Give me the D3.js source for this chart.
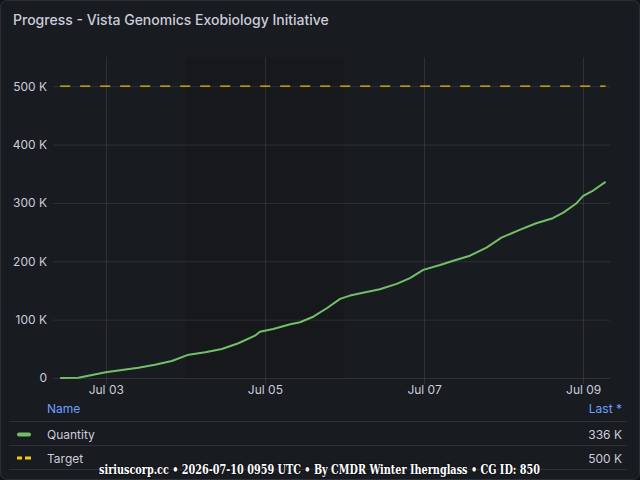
<!DOCTYPE html>
<html lang="en">
<head>
    <meta charset="UTF-8">
    <title>Progress</title>
    <style>
        body { margin: 0; background: #111217; }
    </style>
</head>
<script src="https://cdn.jsdelivr.net/npm/d3@7"></script>
<body>
<script>
    // series data (UTC times, quantity in units)
    var times = ["2026-07-02T10:15", "2026-07-02T15:45", "2026-07-02T18:45", "2026-07-03T00:00",
        "2026-07-03T04:50", "2026-07-03T09:50", "2026-07-03T14:50", "2026-07-03T19:55",
        "2026-07-04T01:00", "2026-07-04T06:00", "2026-07-04T11:00", "2026-07-04T16:00",
        "2026-07-04T21:00", "2026-07-04T22:30", "2026-07-05T02:30", "2026-07-05T07:40",
        "2026-07-05T10:35", "2026-07-05T14:35", "2026-07-05T18:40", "2026-07-05T22:40",
        "2026-07-06T01:40", "2026-07-06T06:40", "2026-07-06T10:40", "2026-07-06T15:45",
        "2026-07-06T19:45", "2026-07-06T23:45", "2026-07-07T04:50", "2026-07-07T08:50",
        "2026-07-07T13:50", "2026-07-07T18:50", "2026-07-07T23:20", "2026-07-08T04:50",
        "2026-07-08T09:50", "2026-07-08T14:50", "2026-07-08T18:00", "2026-07-08T22:00",
        "2026-07-09T00:00", "2026-07-09T03:00", "2026-07-09T06:45"];
    var quantity = [0, 500, 3900, 9800,
        13700, 17700, 22800, 29200,
        40000, 44100, 49700, 59500,
        72500, 79400, 84000, 92100,
        95500, 105000, 119500, 135500,
        141200, 147500, 152000, 161200,
        171000, 185200, 193700, 201000,
        209600, 223300, 240500, 253800,
        265200, 273800, 283400, 299500,
        312000, 321200, 336000];
    var target = 500000;
    var timeRange = ["2026-07-02T08:05", "2026-07-09T08:05"];
    var regionRange = ["2026-07-04T00:00", "2026-07-06T00:00"];
    var yTicks = [0, 100000, 200000, 300000, 400000, 500000];
    var xTicks = ["2026-07-03T00:00", "2026-07-05T00:00", "2026-07-07T00:00", "2026-07-09T00:00"];
    var legendNames = ["Quantity", "Target"];
    var legendLast = ["336 K", "500 K"];

    var parse = d3.utcParse("%Y-%m-%dT%H:%M");
    var W = 640, H = 480;
    var textCol = "#ccccdc", gridCol = "rgba(204,204,220,0.12)";
    var sans = "Inter, 'Noto Sans', sans-serif";

    var svg = d3.select("body").append("svg")
        .attr("width", W).attr("height", H)
        .attr("font-family", sans)
        .style("display", "block");

    // panel
    svg.append("rect")
        .attr("x", 0.5).attr("y", 0.5)
        .attr("width", W - 1).attr("height", H - 1)
        .attr("rx", 6)
        .attr("fill", "#181b1f")
        .attr("stroke", "#2c2f35");

    svg.append("text")
        .attr("x", 13).attr("y", 25)
        .attr("font-size", "14px")
        .attr("font-weight", 500)
        .attr("fill", textCol)
        .text("Progress - Vista Genomics Exobiology Initiative");

    var x = d3.scaleUtc().domain(timeRange.map(parse)).range([53, 610]);
    var y = d3.scaleLinear().domain([0, 550000]).range([378, 57]);

    // time region
    svg.append("rect")
        .attr("x", x(parse(regionRange[0])))
        .attr("y", y.range()[1])
        .attr("width", x(parse(regionRange[1])) - x(parse(regionRange[0])))
        .attr("height", y.range()[0] - y.range()[1])
        .attr("fill", "rgba(0,0,0,0.08)");

    // grid
    svg.append("g").selectAll("line")
        .data(yTicks).enter().append("line")
        .attr("x1", x.range()[0]).attr("x2", x.range()[1])
        .attr("y1", function (d) { return y(d) + 0.5; })
        .attr("y2", function (d) { return y(d) + 0.5; })
        .attr("stroke", gridCol);
    svg.append("g").selectAll("line")
        .data(xTicks).enter().append("line")
        .attr("x1", function (d) { return Math.round(x(parse(d))) + 0.5; })
        .attr("x2", function (d) { return Math.round(x(parse(d))) + 0.5; })
        .attr("y1", y.range()[1]).attr("y2", y.range()[0] + 6)
        .attr("stroke", gridCol);

    // axes labels
    var yAxis = svg.append("g")
        .attr("transform", "translate(47,0)")
        .call(d3.axisLeft(y).tickValues(yTicks).tickSize(0).tickPadding(0)
            .tickFormat(function (d) { return d === 0 ? "0" : (d / 1000) + " K"; }));
    var xAxis = svg.append("g")
        .attr("transform", "translate(0,385)")
        .call(d3.axisBottom(x).tickValues(xTicks.map(parse)).tickSize(0).tickPadding(0)
            .tickFormat(d3.utcFormat("%b %d")));
    [xAxis, yAxis].forEach(function (a) {
        a.select(".domain").remove();
        a.attr("font-family", sans).attr("font-size", 12);
        a.selectAll("text").attr("fill", textCol);
    });
    xAxis.selectAll("text").attr("dy", "0.71em");

    // series
    var pts = times.map(function (t, i) { return {t: parse(t), v: quantity[i]}; });
    var line = d3.line()
        .x(function (d) { return x(d.t); })
        .y(function (d) { return y(d.v); });

    svg.append("path")
        .datum(pts.map(function (d) { return {t: d.t, v: target}; }))
        .attr("d", line)
        .attr("fill", "none")
        .attr("stroke", "#e8bd0c")
        .attr("stroke-width", 1.2)
        .attr("stroke-dasharray", "10,10");

    svg.append("path")
        .datum(pts)
        .attr("d", line)
        .attr("fill", "none")
        .attr("stroke", "#73bf69")
        .attr("stroke-width", 2)
        .attr("stroke-linejoin", "round");

    // legend
    var lg = svg.append("g");
    lg.append("text")
        .attr("x", 47).attr("y", 413)
        .attr("font-size", "12px").attr("fill", "#6e9fff")
        .text("Name");
    lg.append("text")
        .attr("x", 622).attr("y", 413)
        .attr("text-anchor", "end")
        .attr("font-size", "12px").attr("fill", "#6e9fff")
        .text("Last *");
    [421.5, 445.5, 469.5].forEach(function (ly) {
        lg.append("line")
            .attr("x1", 9).attr("x2", 627)
            .attr("y1", ly).attr("y2", ly)
            .attr("stroke", gridCol);
    });
    legendNames.forEach(function (n, i) {
        var cy = 434 + i * 24;
        if (i === 0) {
            lg.append("rect")
                .attr("x", 17).attr("y", cy - 1.5)
                .attr("width", 14).attr("height", 4).attr("rx", 2)
                .attr("fill", "#73bf69");
        } else {
            lg.append("rect").attr("x", 17).attr("y", cy - 1.5)
                .attr("width", 5).attr("height", 3).attr("fill", "#f2cc0c");
            lg.append("rect").attr("x", 25).attr("y", cy - 1.5)
                .attr("width", 6).attr("height", 3).attr("fill", "#f2cc0c");
        }
        lg.append("text")
            .attr("x", 47).attr("y", cy + 4.5)
            .attr("font-size", "12px").attr("fill", textCol)
            .text(n);
        lg.append("text")
            .attr("x", 622).attr("y", cy + 4.5)
            .attr("text-anchor", "end")
            .attr("font-size", "12px").attr("fill", textCol)
            .text(legendLast[i]);
    });

    // footer
    svg.append("text")
        .attr("x", 319.5).attr("y", 474)
        .attr("text-anchor", "middle")
        .attr("textLength", 441)
        .attr("lengthAdjust", "spacingAndGlyphs")
        .style("font-family", "'DejaVu Serif', serif")
        .style("font-weight", "bold")
        .style("font-size", "12.5px")
        .attr("fill", "#ffffff")
        .attr("stroke", "#111217")
        .attr("stroke-width", 2)
        .attr("paint-order", "stroke")
        .text("siriuscorp.cc \u2022 2026-07-10 0959 UTC \u2022 By CMDR Winter Iherngglass \u2022 CG ID: 850".replace("Iherngglass", "Iherngl\u0061ss"));
</script>
</body>
</html>
